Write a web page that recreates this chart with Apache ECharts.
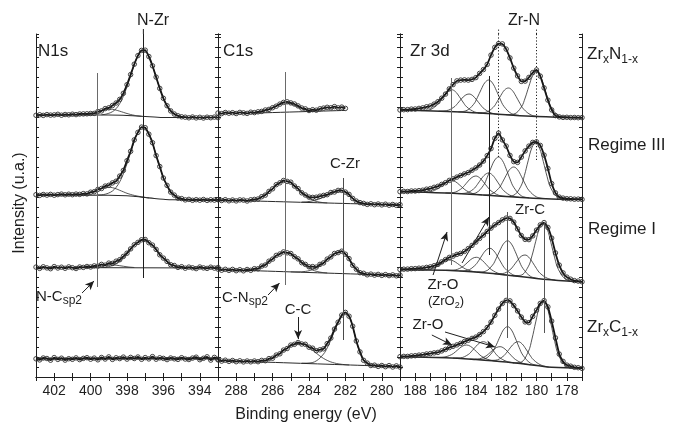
<!DOCTYPE html>
<html><head><meta charset="utf-8">
<script src="https://cdn.jsdelivr.net/npm/echarts@6/dist/echarts.min.js"></script>
<style>html,body{margin:0;padding:0;background:#fff}#c{width:673px;height:427px}</style>
</head><body><div id="c"></div>
<script>
// ---------- energy grids (eV) ----------
const n1sEnergy = [403,402.8,402.6,402.4,402.2,402,401.8,401.6,401.4,401.2,401,400.8,400.6,400.4,400.2,400,399.8,399.6,399.4,399.2,399,398.8,398.6,398.4,398.2,398,397.8,397.6,397.4,397.2,397,396.8,396.6,396.4,396.2,396,395.8,395.6,395.4,395.2,395,394.8,394.6,394.4,394.2,394,393.8,393.6,393.4,393.2,393];
const c1sEnergy = [289,288.8,288.6,288.4,288.2,288,287.8,287.6,287.4,287.2,287,286.8,286.6,286.4,286.2,286,285.8,285.6,285.4,285.2,285,284.8,284.6,284.4,284.2,284,283.8,283.6,283.4,283.2,283,282.8,282.6,282.4,282.2,282,281.8,281.6,281.4,281.2,281,280.8,280.6,280.4,280.2,280,279.8,279.6,279.4,279.2,279];
const zrEnergy = [189,188.75,188.5,188.25,188,187.75,187.5,187.25,187,186.75,186.5,186.25,186,185.75,185.5,185.25,185,184.75,184.5,184.25,184,183.75,183.5,183.25,183,182.75,182.5,182.25,182,181.75,181.5,181.25,181,180.75,180.5,180.25,180,179.75,179.5,179.25,179,178.75,178.5,178.25,178,177.75,177.5,177.25,177];

// ---------- N1s spectra (intensity, u.a.) ----------
const n1sZrN = [4.7,5.2,4.6,5.4,4.9,5.1,5.7,4.8,5.5,5.2,5.8,5.4,6.0,6.1,6.2,6.5,6.6,8.4,9.1,11.4,12.2,14.5,17.0,20.6,26.7,35.3,45.4,55.8,64.4,69.6,69.8,63.5,54.2,42.9,31.6,21.7,14.3,9.1,6.0,4.2,3.2,2.8,2.2,3.0,2.1,2.7,2.0,2.8,2.3,2.9,2.4];
const n1sRegIII = [8.3,7.6,8.5,7.9,8.6,7.8,8.4,8.9,8.2,8.8,8.3,8.9,8.6,9.4,9.1,10.8,11.3,13.6,14.5,16.9,17.7,20.1,21.8,26.9,32.6,42.3,51.7,63.1,70.6,75.9,75.3,68.8,60.3,47.4,36.5,25.0,17.6,10.9,7.9,4.9,4.4,3.1,3.6,2.7,3.3,2.8,3.5,2.6,3.2,2.9,3.4];
const n1sRegI = [15.9,14.6,16.2,15.1,14.3,16.4,15.0,15.8,14.7,16.1,15.3,14.5,16.0,15.6,16.5,16.0,17.1,16.9,18.6,17.8,19.9,19.6,21.8,23.3,26.6,29.8,34.1,38.2,40.6,43.2,43.5,40.3,37.9,33.6,28.2,24.9,21.6,18.3,17.5,15.6,16.3,14.8,15.9,15.2,14.4,16.0,15.1,14.6,15.8,14.9,15.5];
const n1sZrC = [11.2,10.1,12.0,11.5,9.8,12.4,10.6,11.8,9.9,11.3,10.7,12.1,10.4,11.6,12.3,10.8,11.9,10.2,12.5,11.0,13.1,10.6,12.2,11.4,12.9,10.9,12.6,11.5,13.0,10.7,12.4,11.1,13.4,10.8,12.2,11.6,10.4,12.0,11.2,10.6,12.3,11.0,10.5,11.9,12.8,10.3,11.7,13.2,9.9,12.6,10.8];
// N1s fitted components [eV, intensity]
const n1sZrNBg = [[403,5],[399,5],[398,4.5],[397.5,4],[397,3.5],[396.5,3],[396,2.5],[393,2.5]];
const n1sZrNNZr = [[399.4,5.3],[399.2,5.7],[399.0,6.7],[398.8,8.3],[398.6,11.3],[398.4,16.4],[398.2,23.7],[398.0,33.4],[397.8,44.3],[397.6,55.2],[397.4,64.1],[397.2,69.0],[397.0,68.8],[396.8,63.5],[396.6,54.2],[396.4,42.9],[396.2,31.6],[396.0,21.7],[395.8,14.3],[395.6,9.1],[395.4,6.0],[395.2,4.2],[395.0,3.2],[394.8,2.8]];
const n1sZrNNC = [[400.4,5.3],[400.0,6.1],[399.6,8.0],[399.2,10.3],[399.0,10.9],[398.8,10.7],[398.4,8.8],[398.0,6.5],[397.6,4.7],[397.2,3.8]];
const n1sRegIIIBg = [[403,8],[399,7.8],[398,7.3],[397.5,6.5],[397,5.5],[396.5,4.5],[396,3.7],[395.5,3.2],[393,3]];
const n1sRegIIINZr = [[399.6,8.1],[399.4,8.2],[399.2,8.8],[399.0,10.0],[398.8,12.0],[398.6,15.6],[398.4,21.2],[398.2,29.2],[398.0,39.4],[397.8,50.6],[397.6,61.8],[397.4,70.7],[397.2,75.3],[397.0,74.8],[396.8,69.3],[396.6,59.7],[396.4,47.9],[396.2,36.0],[396.0,25.5],[395.8,17.2],[395.6,11.3],[395.4,7.5],[395.2,5.3],[395.0,4.0],[394.8,3.4]];
const n1sRegIIINC = [[400.8,8.2],[400.4,8.8],[400.0,10.3],[399.6,13.1],[399.4,14.4],[399.2,15.4],[399.0,15.8],[398.8,15.3],[398.6,14.2],[398.4,12.7],[398.2,11.2],[398.0,9.7],[397.6,7.6],[397.2,6.2],[396.8,5.1]];
const n1sRegIBg = [[403,15.5],[393,15]];
const n1sRegINZr = [[399.4,15.5],[399.0,16.4],[398.6,19.1],[398.2,24.8],[398.0,28.9],[397.8,33.4],[397.6,37.7],[397.4,41.0],[397.2,42.9],[397.0,42.8],[396.8,40.9],[396.6,37.5],[396.4,33.2],[396.2,28.7],[396.0,24.5],[395.6,18.8],[395.2,16.1],[394.8,15.25]];
const n1sRegINC = [[400.4,15.6],[400.0,16.3],[399.6,17.4],[399.2,18.2],[399.0,18.3],[398.8,18.2],[398.4,17.3],[398.0,16.2],[397.6,15.5]];
const n1sZrCFit = [[403,11.4],[393,11.6]];

// ---------- C1s spectra ----------
const c1sZrN = [7.0,6.4,7.5,6.8,7.3,6.5,7.6,7.1,6.6,7.8,7.4,8.2,8.6,10.0,10.6,12.3,13.8,15.9,17.6,18.2,17.1,16.0,14.1,12.0,11.1,9.5,10.3,9.8,11.2,11.9,12.7,12.2,13.4,12.1,12.9,11.6];
const c1sRegIII = [3.4,2.5,3.3,2.2,3.0,2.1,3.1,2.9,2.0,3.2,3.6,4.0,6.3,7.9,11.6,14.2,18.3,20.2,22.5,21.6,20.8,17.0,14.4,10.2,8.0,5.9,5.6,5.8,6.8,7.6,8.3,10.5,11.0,12.6,12.6,10.9,8.6,4.6,1.9,0.4,-0.4,-1.4,-0.8,-1.7,-1.0,-1.9,-1.2,-2.2,-1.5,-2.3,-1.6];
const c1sRegI = [13.9,12.8,13.7,12.6,13.6,12.3,13.3,12.2,13.5,12.7,14.3,14.2,16.9,18.0,21.8,23.9,27.6,29.0,31.1,30.2,29.5,26.3,24.1,20.3,18.6,16.2,16.4,15.9,18.6,20.1,23.9,26.1,29.5,30.4,31.8,28.8,24.4,17.7,13.8,10.3,9.7,8.2,8.9,7.9,8.6,7.6,8.4,7.4,8.1,7.2,7.9];
const c1sZrC = [10.1,8.9,9.8,8.6,9.5,8.3,9.2,8.1,9.0,8.2,9.0,8.3,9.6,9.3,11.4,11.8,14.9,16.2,19.9,21.5,24.9,25.7,27.5,26.0,25.7,22.8,21.8,19.3,20.2,21.2,26.4,31.9,40.9,47.8,54.9,57.6,53.8,43.8,29.0,18.1,9.7,6.9,4.5,4.8,3.6,4.5,3.3,4.4,3.0,4.1,2.9];
const c1sZrNBg = [[287.2,6.8],[282,9.6]];
const c1sZrNCN = [[287.0,7.2],[286.6,8.4],[286.2,10.6],[285.8,14.2],[285.5,16.4],[285.3,17.0],[285.0,16.0],[284.7,13.8],[284.4,11.4],[284.0,9.7],[283.6,9.2]];
const c1sRegIIIBg = [[289,3],[279,-2]];
const c1sRegIIICN = [[287.4,2.5],[287.0,3.3],[286.6,5.9],[286.2,11.2],[285.8,17.9],[285.4,22.0],[285.2,21.9],[285.0,20.3],[284.6,13.9],[284.2,7.1],[283.8,2.8],[283.4,0.85],[283.0,0.1]];
const c1sRegIIICZr = [[284.4,1.0],[284.0,1.5],[283.6,3.0],[283.2,5.8],[282.8,9.3],[282.4,11.9],[282.2,12.1],[282.0,10.8],[281.6,4.4],[281.2,0.1],[280.8,-1.1]];
const c1sRegIBg = [[289,13.5],[279,7.5]];
const c1sRegICN = [[287.6,12.8],[287.2,13.2],[286.8,14.8],[286.4,18.5],[286.0,24.3],[285.6,29.5],[285.4,30.6],[285.2,30.5],[285.0,29.1],[284.6,23.5],[284.2,17.2],[283.8,13.0],[283.4,10.9],[283.0,10.1]];
const c1sRegICZr = [[285.0,11.15],[284.6,11.1],[284.2,11.6],[283.8,13.4],[283.4,17.3],[283.0,23.3],[282.6,29.1],[282.4,30.8],[282.2,31.4],[282.0,29.2],[281.8,24.0],[281.4,13.4],[281.0,9.3],[280.6,8.5]];
const c1sZrCBg = [[289,9.5],[279,3.3]];
const c1sZrCCC = [[287.4,8.6],[287.0,8.6],[286.6,9.1],[286.2,10.8],[285.8,14.3],[285.4,19.4],[285.0,24.4],[284.8,26.1],[284.6,26.8],[284.4,26.35],[284.2,24.9],[283.8,19.9],[283.4,14.0],[283.0,9.6],[282.6,7.0],[282.2,5.7],[281.8,5.04]];
const c1sZrCCZr = [[284.4,6.8],[284.0,7.0],[283.6,9.1],[283.2,16.0],[283.0,22.1],[282.8,30.0],[282.6,38.9],[282.4,47.4],[282.2,54.0],[282.0,57.0],[281.8,54.2],[281.6,43.3],[281.4,29.4],[281.2,17.6],[281.0,10.1],[280.8,6.4],[280.6,4.9],[280.2,4.04]];

// ---------- Zr 3d spectra ----------
const zrZrN = [10.0,10.3,10.4,10.9,11.0,11.6,12.1,13.2,14.0,15.9,18.3,21.8,25.9,31.1,35.4,39.1,39.9,40.1,39.9,40.6,42.4,46.6,50.4,55.6,64.9,72.6,76.4,76.1,70.9,62.1,51.9,44.1,38.6,38.9,42.6,47.4,50.1,43.9,32.1,19.9,10.1,4.4,3.1,2.6,2.7,2.4,2.5,2.3,2.4];
const zrRegIII = [11.3,11.6,11.5,12.0,12.0,12.4,12.8,13.8,14.4,15.7,16.7,18.6,20.3,22.6,24.1,25.9,27.5,29.1,30.5,32.8,35.1,38.0,41.9,47.4,54.4,64.6,69.9,63.1,56.9,47.6,41.4,40.6,45.9,52.1,56.9,60.6,61.2,57.6,47.9,34.6,19.4,10.1,5.9,4.9,4.3,4.2,3.8,3.9,3.6];
const zrRegI = [13.5,13.8,13.9,14.3,14.4,14.8,14.9,15.6,16.1,17.3,18.6,21.1,23.4,25.6,26.9,28.6,29.6,31.6,34.4,37.6,40.9,44.6,47.9,51.6,54.9,58.1,60.4,63.1,64.9,64.6,60.9,54.1,47.4,43.6,43.4,47.1,52.9,58.1,60.4,55.6,44.9,30.1,17.9,10.1,5.9,3.8,2.4,1.9,1.2];
const zrZrC = [13.3,13.6,13.6,14.1,14.3,14.9,15.2,16.0,16.4,17.1,17.6,19.1,20.6,22.4,23.7,25.1,26.6,28.4,29.8,31.6,32.9,35.4,38.4,42.5,47.9,54.6,60.9,66.6,69.6,69.1,64.4,59.1,52.9,48.1,47.4,53.6,59.9,66.6,69.4,63.1,48.9,32.1,15.9,8.6,4.9,3.8,2.7,2.3,1.6];
const zrZrNBg = [[189,10],[185,8],[182,5.2],[180,3.6],[177,2.3]];
const zrZrNComps = [
  [[187.6,9.4],[187.1,10.0],[186.6,14.3],[186.35,18.8],[186.1,24.1],[185.85,28.6],[185.6,30.3],[185.35,28.4],[185.1,23.6],[184.85,18.0],[184.6,13.1],[184.1,8.2],[183.6,6.8]],
  [[186.45,8.8],[185.95,9.3],[185.45,12.8],[185.2,16.6],[184.95,21.1],[184.7,24.7],[184.45,26.0],[184.2,24.3],[183.95,20.1],[183.7,15.3],[183.45,11.2],[182.95,6.9],[182.45,5.7]],
  [[185.15,8.2],[184.65,9.2],[184.15,15.6],[183.9,22.4],[183.65,30.5],[183.4,37.4],[183.15,40.0],[182.9,36.9],[182.65,29.6],[182.4,21.0],[182.15,13.7],[181.65,6.4],[181.15,4.65]],
  [[183.85,7.0],[183.35,7.7],[182.85,12.7],[182.6,18.2],[182.35,24.6],[182.1,30.1],[181.85,32.0],[181.6,29.6],[181.35,23.7],[181.1,16.8],[180.85,10.9],[180.35,5.0],[179.85,3.6]],
  [[182.0,5.3],[181.5,5.9],[181.0,13.0],[180.75,22.0],[180.5,33.8],[180.25,44.4],[180.0,48.6],[179.75,44.1],[179.5,33.2],[179.25,21.1],[179.0,11.8],[178.5,4.05],[178.0,2.8]]
];
const zrRegIIIBg = [[189,11.3],[186,10],[183,7.5],[181,5.5],[179,4],[177,3.5]];
const zrRegIIIComps = [
  [[187.6,10.74],[187.1,11.05],[186.6,13.5],[186.35,16.1],[186.1,19.2],[185.85,21.8],[185.6,22.7],[185.35,21.4],[185.1,18.4],[184.85,15.0],[184.6,12.1],[184.1,9.0],[183.6,8.05]],
  [[186,10.1],[185.5,10.4],[185,13.8],[184.75,17.5],[184.5,22.0],[184.25,25.6],[184,27.0],[183.75,25.2],[183.5,21.1],[183.25,16.3],[183,12.2],[182.5,7.8],[182,6.6]],
  [[185.15,9.4],[184.65,9.9],[184.15,14.0],[183.9,18.5],[183.65,23.9],[183.4,28.3],[183.15,30.0],[182.9,27.9],[182.65,23.0],[182.4,17.2],[182.15,12.2],[181.65,7.1],[181.15,5.7]],
  [[184.5,8.9],[184,10.1],[183.5,17.6],[183.25,25.6],[183,35.1],[182.75,43.0],[182.5,46.0],[182.25,42.5],[182,34.1],[181.75,24.1],[181.5,15.7],[181,7.2],[180.5,5.3]],
  [[183.5,8.0],[183,8.8],[182.5,14.5],[182.25,20.5],[182,27.7],[181.75,33.8],[181.5,36.0],[181.25,33.3],[181,26.7],[180.75,19.0],[180.5,12.6],[180,6.1],[179.5,4.5]],
  [[182.05,6.5],[181.55,7.4],[181.05,16.2],[180.8,27.4],[180.55,42.2],[180.3,55.4],[180.05,60.7],[179.8,55.0],[179.55,41.4],[179.3,26.3],[179.05,14.7],[178.55,5.2],[178.05,3.8]]
];
const zrRegIBg = [[189,13.3],[186,12.7],[184,11],[182,8],[180,4.5],[178,2],[177,1.3]];
const zrRegIComps = [
  [[187.7,13.1],[187.2,13.4],[186.7,15.4],[186.45,17.6],[186.2,20.1],[185.95,22.3],[185.7,23.0],[185.45,21.8],[185.2,19.4],[184.95,16.6],[184.7,14.2],[184.2,11.6],[183.7,10.6]],
  [[185.95,12.7],[185.45,12.9],[184.95,15.5],[184.7,18.4],[184.45,21.9],[184.2,24.8],[183.95,25.7],[183.7,24.1],[183.45,20.7],[183.2,16.6],[182.95,13.1],[182.45,9.3],[181.95,8.0]],
  [[185.07,12.0],[184.57,12.6],[184.07,17.4],[183.82,22.2],[183.57,28.1],[183.32,33.0],[183.07,34.7],[182.82,32.2],[182.57,26.6],[182.32,20.0],[182.07,14.4],[181.57,8.4],[181.07,6.5]],
  [[183.9,11.0],[183.4,11.6],[182.9,17.9],[182.65,24.8],[182.4,32.9],[182.15,39.7],[181.9,42.2],[181.65,38.9],[181.4,31.3],[181.15,22.3],[180.9,14.7],[180.4,6.7],[179.9,4.5]],
  [[182.76,9.2],[182.26,9.4],[181.76,13.1],[181.51,17.3],[181.26,22.4],[181.01,26.7],[180.76,28.0],[180.51,25.8],[180.26,20.7],[180.01,14.7],[179.76,9.7],[179.26,4.6],[178.76,3.0]],
  [[181.55,7.3],[181.05,7.7],[180.55,16.2],[180.3,27.1],[180.05,41.7],[179.8,54.8],[179.55,59.9],[179.3,54.1],[179.05,40.4],[178.8,25.1],[178.55,13.4],[178.05,3.4],[177.55,1.8]]
];
const zrZrCBg = [[189,13.3],[186,12.3],[184,10.5],[182,8],[180,4.5],[179,2.7],[177,1.7]];
const zrZrCComps = [
  [[186.6,12.55],[186.1,12.95],[185.6,15.4],[185.35,18.1],[185.1,21.4],[184.85,24.1],[184.6,25.0],[184.35,23.6],[184.1,20.5],[183.85,16.7],[183.6,13.5],[183.1,10.0],[182.6,8.8]],
  [[185.5,11.9],[185,12.2],[184.5,15.5],[184.25,19.2],[184,23.5],[183.75,27.1],[183.5,28.3],[183.25,26.5],[183,22.3],[182.75,17.4],[182.5,13.2],[182,8.8],[181.5,7.2]],
  [[184.4,10.9],[183.9,11.0],[183.4,13.4],[183.15,16.2],[182.9,19.6],[182.65,22.4],[182.4,23.3],[182.15,21.8],[181.9,18.3],[181.65,14.2],[181.4,10.6],[180.9,6.7],[180.4,5.3]],
  [[183.9,10.5],[183.4,11.3],[182.9,18.0],[182.65,25.1],[182.4,33.6],[182.15,40.8],[181.9,43.3],[181.65,40.0],[181.4,32.0],[181.15,22.8],[180.9,14.9],[180.4,6.8],[179.9,4.5]],
  [[183.2,9.6],[182.7,9.8],[182.2,13.65],[181.95,17.85],[181.7,22.8],[181.45,26.9],[181.2,28.3],[180.95,26.1],[180.7,21.0],[180.45,15.2],[180.2,10.25],[179.7,4.9],[179.2,3.1]],
  [[181.55,7.1],[181.05,7.7],[180.55,18.0],[180.3,31.0],[180.05,48.1],[179.8,63.5],[179.55,69.5],[179.3,62.6],[179.05,46.4],[178.8,28.7],[178.55,15.2],[178.05,3.8],[177.55,2.1]]
];

// vertical stacking offset of each sample row
const OFF = {zrn: 257, r3: 174, r1: 94, zrc: 7};
const tickLabels = ['402','400','398','396','394','288','286','284','282','280','188','186','184','182','180','178'];

// ---------- build chart ----------
const FONT = '"Liberation Sans", Arial, Helvetica, sans-serif';
const INK = '#1e1e1e';
const YMAX = 343;
const ranges = [[393,403],[279,289],[177,189]];
const gridPos = [{left:36,width:182},{left:218,width:182},{left:400,width:182}];

const grid = gridPos.map(g => ({left:g.left, top:34, width:g.width, height:343}));
const xAxis = [], yAxis = [];
ranges.forEach((r, g) => {
  const base = {type:'value', gridIndex:g, min:r[0], max:r[1], interval:1, inverse:true,
    axisLine:{show:true, lineStyle:{color:INK, width:1}}, splitLine:{show:false},
    axisTick:{show:true, inside:true, length:4, lineStyle:{color:INK}}};
  xAxis.push(Object.assign({}, base, {position:'bottom',
    axisLabel:{show:true, margin:7, fontSize:14, fontFamily:FONT, color:INK,
      formatter: v => tickLabels.indexOf(String(v)) >= 0 ? String(v) : ''}}));
  xAxis.push(Object.assign({}, base, {position:'top', axisLabel:{show:false}}));
  const yb = {type:'value', gridIndex:g, min:0, max:YMAX, interval:10,
    axisLine:{show:true, lineStyle:{color:INK, width:1}}, splitLine:{show:false},
    axisLabel:{show:false}, axisTick:{show:true, inside:true, length:3, lineStyle:{color:INK}}};
  yAxis.push(Object.assign({}, yb, {position:'left'}));
  yAxis.push(Object.assign({}, yb, {position:'right'}));
});

const series = [];
function addData(g, E, V, off) {
  series.push({type:'line', xAxisIndex:2*g, yAxisIndex:2*g, data:V.map((v,i)=>[E[i], v+off]),
    symbol:'circle', symbolSize:4.5, showAllSymbol:true, smooth:0.15,
    itemStyle:{color:'rgba(255,255,255,0)', borderColor:'#2e2e2e', borderWidth:0.9},
    lineStyle:{color:'#151515', width:1.8}, silent:true, z:4, animation:false});
}
function addComp(g, arr, off, w) {
  series.push({type:'line', xAxisIndex:2*g, yAxisIndex:2*g, data:arr.map(p=>[p[0], p[1]+off]),
    smooth:0.4, symbol:'none', lineStyle:{color:'#2a2a2a', width:w||0.8}, silent:true, z:2, animation:false});
}
// N1s
addComp(0, n1sZrNBg, OFF.zrn, 1.1); addComp(0, n1sZrNNZr, OFF.zrn); addComp(0, n1sZrNNC, OFF.zrn);
addData(0, n1sEnergy, n1sZrN, OFF.zrn);
addComp(0, n1sRegIIIBg, OFF.r3, 1.1); addComp(0, n1sRegIIINZr, OFF.r3); addComp(0, n1sRegIIINC, OFF.r3);
addData(0, n1sEnergy, n1sRegIII, OFF.r3);
addComp(0, n1sRegIBg, OFF.r1, 1.1); addComp(0, n1sRegINZr, OFF.r1); addComp(0, n1sRegINC, OFF.r1);
addData(0, n1sEnergy, n1sRegI, OFF.r1);
addComp(0, n1sZrCFit, OFF.zrc, 1.6);
addData(0, n1sEnergy, n1sZrC, OFF.zrc);
// C1s
addComp(1, c1sZrNBg, OFF.zrn, 1.0); addComp(1, c1sZrNCN, OFF.zrn);
addData(1, c1sEnergy, c1sZrN, OFF.zrn);
addComp(1, c1sRegIIIBg, OFF.r3, 1.0); addComp(1, c1sRegIIICN, OFF.r3); addComp(1, c1sRegIIICZr, OFF.r3);
addData(1, c1sEnergy, c1sRegIII, OFF.r3);
addComp(1, c1sRegIBg, OFF.r1, 1.0); addComp(1, c1sRegICN, OFF.r1); addComp(1, c1sRegICZr, OFF.r1);
addData(1, c1sEnergy, c1sRegI, OFF.r1);
addComp(1, c1sZrCBg, OFF.zrc, 1.0); addComp(1, c1sZrCCC, OFF.zrc); addComp(1, c1sZrCCZr, OFF.zrc);
addData(1, c1sEnergy, c1sZrC, OFF.zrc);
// Zr 3d
addComp(2, zrZrNBg, OFF.zrn, 1.5); zrZrNComps.forEach(c => addComp(2, c, OFF.zrn));
addData(2, zrEnergy, zrZrN, OFF.zrn);
addComp(2, zrRegIIIBg, OFF.r3, 1.5); zrRegIIIComps.forEach(c => addComp(2, c, OFF.r3));
addData(2, zrEnergy, zrRegIII, OFF.r3);
addComp(2, zrRegIBg, OFF.r1, 1.5); zrRegIComps.forEach(c => addComp(2, c, OFF.r1));
addData(2, zrEnergy, zrRegI, OFF.r1);
addComp(2, zrZrCBg, OFF.zrc, 1.5); zrZrCComps.forEach(c => addComp(2, c, OFF.zrc));
addData(2, zrEnergy, zrZrC, OFF.zrc);

// reference lines and arrows (data coordinates)
function vl(E, a, b, color, type) { return [{coord:[E,a], lineStyle:{color:color, type:type||'solid', width:1}}, {coord:[E,b]}]; }
function ar(e1, v1, e2, v2) { return [{coord:[e1,v1], symbol:'none'}, {coord:[e2,v2], symbol:'arrow', symbolSize:[6,9]}]; }
const vlines = [
  [vl(397.1, 99, YMAX, INK), vl(399.65, 90, 304, '#6a6a6a')],
  [vl(285.3, 92, 305, '#6a6a6a'), vl(282.1, 37, 199, '#4a4a4a')],
  [vl(182.5, 220, YMAX, INK, [1.2,2]), vl(180.0, 217, YMAX, INK, [1.2,2]), vl(185.6, 112, 299, '#6a6a6a'),
   vl(183.1, 122, 301, INK), vl(181.95, 39, 165, '#555'), vl(179.5, 44, 155, '#555')]
];
const arrows = [
  [ar(400.47, 84, 399.81, 96)],
  [ar(286.25, 82, 285.62, 94), ar(284.6, 60, 284.6, 38)],
  [ar(186.82, 102, 185.9, 145), ar(184.91, 114, 183.13, 160), ar(186.9, 42, 185.57, 32), ar(186.03, 45, 182.74, 30)]
];
[0,1,2].forEach(g => {
  series.push({type:'line', xAxisIndex:2*g, yAxisIndex:2*g, data:[], silent:true, z:5, animation:false,
    markLine:{silent:true, animation:false, symbol:['none','none'], label:{show:false},
      lineStyle:{color:INK, type:'solid', width:1}, emphasis:{disabled:true}, data:vlines[g]}});
  series.push({type:'line', xAxisIndex:2*g, yAxisIndex:2*g, data:[], silent:true, z:5, animation:false,
    markLine:{silent:true, animation:false, symbol:['none','arrow'], symbolSize:[6,9], label:{show:false},
      itemStyle:{color:INK}, lineStyle:{color:INK, type:'solid', width:1}, emphasis:{disabled:true}, data:arrows[g]}});
});

const chart = echarts.init(document.getElementById('c'), null, {renderer:'canvas'});
chart.setOption({animation:false, backgroundColor:'#fff', grid, xAxis, yAxis, series});

// text annotations
function txt(x, y, text, size, align, extra) {
  return Object.assign({type:'text', silent:true, z:10, style:{x:x, y:y, text:text, fill:INK,
    font:'normal ' + size + 'px ' + FONT, align:align||'left', verticalAlign:'middle'}}, extra||{});
}
function rich(x, y, text, size, subSize, subLH, mainLH) {
  return {type:'text', silent:true, z:10, style:{x:x, y:y, text:text, fill:INK, align:'left', verticalAlign:'middle',
    rich:{m:{fontSize:size, fontFamily:FONT, fill:INK, lineHeight:mainLH},
          s:{fontSize:subSize, fontFamily:FONT, fill:INK, lineHeight:subLH, verticalAlign:'bottom'}}}};
}
const graphic = [
  txt(38, 51, 'N1s', 17), txt(223, 51, 'C1s', 17), txt(410, 51, 'Zr 3d', 17),
  txt(153, 21, 'N-Zr', 16, 'center'), txt(524, 21, 'Zr-N', 16, 'center'),
  txt(345, 164, 'C-Zr', 15, 'center'), txt(530, 210, 'Zr-C', 15, 'center'),
  txt(443, 285, 'Zr-O', 15, 'center'), txt(428, 325, 'Zr-O', 15, 'center'),
  rich(428, 301, '{m|(ZrO}{s|2}{m|)}', 13, 9, 9, 18),
  txt(298, 310, 'C-C', 15, 'center'),
  rich(36, 297, '{m|N-C}{s|sp2}', 15, 12, 16, 19),
  rich(222, 298, '{m|C-N}{s|sp2}', 15, 12, 16, 19),
  rich(587, 54, '{m|Zr}{s|x}{m|N}{s|1-x}', 17, 12, 12, 24),
  txt(588, 145, 'Regime III', 17), txt(588, 229, 'Regime I', 17),
  rich(587, 327, '{m|Zr}{s|x}{m|C}{s|1-x}', 17, 12, 12, 24),
  txt(306, 415, 'Binding energy (eV)', 16, 'center'),
  {type:'text', silent:true, z:10, x:20, y:203, rotation:Math.PI/2,
   style:{x:0, y:0, text:'Intensity (u.a.)', fill:INK, font:'normal 16px ' + FONT, align:'center', verticalAlign:'middle'}}
];
// short extensions of the reference lines above the frame, positioned through the axes
[[0,397.1,null],[2,182.5,[1.2,2]],[2,180.0,[1.2,2]]].forEach(([g,E,dash]) => {
  const p = chart.convertToPixel({xAxisIndex:2*g, yAxisIndex:2*g}, [E, YMAX]);
  graphic.push({type:'line', silent:true, z:10, shape:{x1:p[0], y1:p[1], x2:p[0], y2:p[1]-5},
    style:{stroke:INK, lineWidth:1, lineDash:dash||null}});
});
chart.setOption({graphic});
</script></body></html>
